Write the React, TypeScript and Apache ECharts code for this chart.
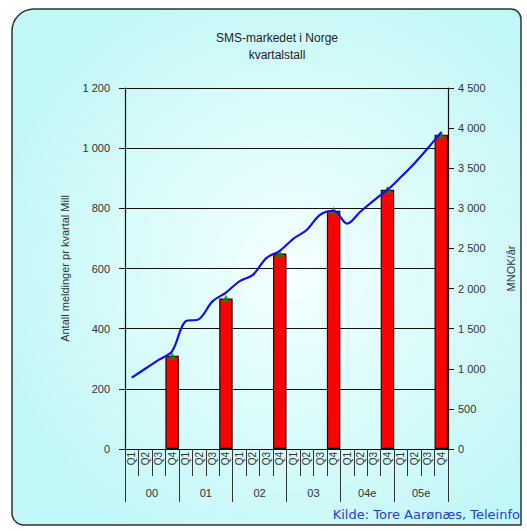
import React, { useEffect, useRef } from "react";
import * as echarts from "echarts";

const yearGroups = ["00", "01", "02", "03", "04e", "05e"];
const quarterNames = ["Q1", "Q2", "Q3", "Q4"];
// SMS volume per quarter (mill. messages), only Q4 reported
const smsVolume = [
  null, null, null, 310,
  null, null, null, 500,
  null, null, null, 650,
  null, null, null, 792,
  null, null, null, 862,
  null, null, null, 1045,
];
// Revenue MNOK/år (annualised), per quarter
const revenue = [
  890, 1000, 1110, 1220,
  1590, 1620, 1840, 1950,
  2090, 2170, 2380, 2470,
  2620, 2730, 2920, 2970,
  2810, 2960, 3100, 3230,
  3390, 3560, 3750, 3950,
];
const leftTicks = { min: 0, max: 1200, interval: 200 };
const rightTicks = { min: 0, max: 4500, interval: 500 };

const categories: string[] = [];
yearGroups.forEach((y) => quarterNames.forEach((q) => categories.push(q)));

const fmt = (v: number) => {
  const s = String(Math.round(v));
  return s.replace(/\B(?=(\d{3})+(?!\d))/g, " ");
};

const FONT = "Liberation Sans, Arial, sans-serif";

export default function App() {
  const ref = useRef<HTMLDivElement>(null);
  useEffect(() => {
    document.body.style.margin = "0";
    const chart = echarts.init(ref.current!, null, { renderer: "svg" });
    chart.setOption({
      animation: false,
      graphic: [
        {
          type: "rect",
          z: -10,
          shape: { x: 12, y: 9, width: 509, height: 516, r: [22, 10, 0, 12] },
          style: {
            fill: new echarts.graphic.RadialGradient(0.55, 0.5, 0.6, [
              { offset: 0, color: "#f4ffff" },
              { offset: 1, color: "#c2f7f7" },
            ]),
            stroke: "#333",
            lineWidth: 1.5,
          },
        },
        {
          type: "text",
          right: 7,
          top: 508,
          style: {
            text: "Kilde: Tore Aarønæs, Teleinfo",
            fill: "#1f3fd6",
            font: "13px 'Comic Sans MS', 'DejaVu Sans', sans-serif",
          },
        },
      ],
      title: {
        text: "SMS-markedet i Norge\nkvartalstall",
        left: 272,
        top: 24,
        textAlign: "center",
        textStyle: {
          fontFamily: FONT,
          fontSize: 12,
          fontWeight: "normal",
          color: "#222",
          lineHeight: 17,
        },
      },
      grid: { left: 125, right: 79, top: 88, bottom: 82 },
      xAxis: [
        {
          type: "category",
          position: "bottom",
          data: categories,
          boundaryGap: true,
          axisLine: { show: true, lineStyle: { color: "#111", width: 1.2 } },
          axisTick: { show: true, interval: 0, length: 27, lineStyle: { color: "#333" } },
          axisLabel: {
            interval: 0,
            rotate: 90,
            margin: 3,
            fontSize: 10,
            fontFamily: FONT,
            color: "#333",
          },
        },
        {
          type: "category",
          position: "bottom",
          data: yearGroups,
          boundaryGap: true,
          axisLine: { show: false },
          axisTick: { show: true, interval: 0, length: 53, lineStyle: { color: "#333" } },
          axisLabel: {
            interval: 0,
            margin: 38,
            fontSize: 11,
            fontFamily: FONT,
            color: "#333",
          },
        },
      ],
      yAxis: [
        {
          type: "value",
          ...leftTicks,
          name: "Antall meldinger pr kvartal Mill",
          nameLocation: "middle",
          nameGap: 55,
          nameTextStyle: { fontFamily: FONT, fontSize: 11, color: "#333" },
          axisLine: { show: true, lineStyle: { color: "#111", width: 1.2 } },
          axisTick: { show: true, length: 6, lineStyle: { color: "#111" } },
          axisLabel: {
            margin: 15,
            fontSize: 11,
            fontFamily: FONT,
            color: "#333",
            formatter: (v: number) => fmt(v),
          },
          splitLine: { show: true, lineStyle: { color: "#111", width: 1.2 } },
        },
        {
          type: "value",
          ...rightTicks,
          position: "right",
          name: "MNOK/år",
          nameLocation: "middle",
          nameGap: 57,
          nameTextStyle: { fontFamily: FONT, fontSize: 11, color: "#333" },
          axisLine: { show: true, lineStyle: { color: "#111", width: 1.2 } },
          axisTick: { show: true, length: 6, lineStyle: { color: "#111" } },
          axisLabel: {
            margin: 10,
            fontSize: 11,
            fontFamily: FONT,
            color: "#333",
            formatter: (v: number) => fmt(v),
          },
          splitLine: { show: false },
        },
      ],
      series: [
        {
          type: "bar",
          name: "Meldinger",
          data: smsVolume,
          xAxisIndex: 0,
          yAxisIndex: 0,
          barWidth: "100%",
          itemStyle: { color: "#ff0000", borderColor: "#111", borderWidth: 1.2 },
          z: 2,
        },
        {
          type: "scatter",
          name: "Markør",
          data: smsVolume,
          xAxisIndex: 0,
          yAxisIndex: 0,
          symbol: "triangle",
          symbolSize: 8,
          itemStyle: { color: "#0a8a0a" },
          z: 3,
        },
        {
          type: "line",
          name: "MNOK/år",
          data: revenue,
          xAxisIndex: 0,
          yAxisIndex: 1,
          smooth: 0.35,
          showSymbol: false,
          lineStyle: { color: "#1010ee", width: 2.2 },
          itemStyle: { color: "#1010ee" },
          z: 4,
        },
      ],
    });
    return () => chart.dispose();
  }, []);
  return (
    <div
      ref={ref}
      style={{ position: "absolute", left: 0, top: 0, width: 527, height: 531 }}
    />
  );
}
